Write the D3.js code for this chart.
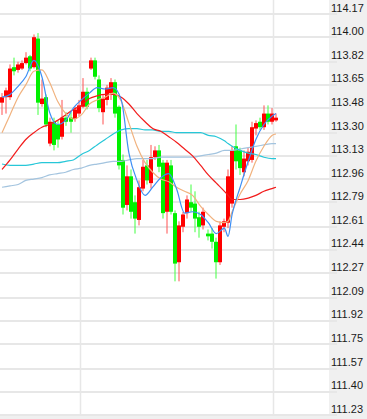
<!DOCTYPE html>
<html>
<head>
<meta charset="utf-8">
<script src="https://cdn.jsdelivr.net/npm/d3@7"></script>
<style>
  body { margin: 0; background: #fff; }
  svg { display: block; }
</style>
</head>
<body>
<svg id="chart" width="367" height="419"></svg>
<script>
/////////////////////////////////////////////////////////////
////////////////////// Data /////////////////////////////////
/////////////////////////////////////////////////////////////
// price labels on the right axis
var tickValues = [114.17, 114.00, 113.82, 113.65, 113.48, 113.30, 113.13, 112.96, 112.79,
                  112.61, 112.44, 112.27, 112.09, 111.92, 111.75, 111.57, 111.40, 111.23];

// candles, oldest first
var opens = [113.52,113.56,113.56,113.78,113.76,113.77,113.81,113.86,113.78,113.99,
             113.51,113.56,113.22,113.38,113.36,113.27,113.41,113.41,113.40,113.44,
             113.49,113.60,113.77,113.83,113.69,113.45,113.54,113.59,113.67,113.49,
             113.10,112.77,112.98,112.79,112.66,112.89,113.06,112.93,113.12,113.17,
             113.08,112.72,113.06,112.71,112.35,112.61,112.71,112.79,112.78,112.68,
             112.62,112.56,112.56,112.50,112.35,112.61,112.64,112.78,113.20,113.17,
             113.01,113.09,113.10,113.33,113.38,113.34,113.44,113.38,113.39];
var highs = [113.59,113.63,113.80,113.85,113.82,113.83,113.89,113.87,114.02,114.03,
             113.69,113.58,113.41,113.41,113.39,113.54,113.45,113.45,113.49,113.54,
             113.70,113.63,113.85,113.85,113.72,113.58,113.65,113.70,113.69,113.50,
             113.14,113.06,113.03,112.84,112.95,113.10,113.10,113.21,113.20,113.21,
             113.10,113.10,113.10,112.73,112.65,112.72,112.84,112.92,112.87,112.72,
             112.75,112.59,112.60,112.53,112.65,112.67,113.03,113.20,113.36,113.19,
             113.17,113.19,113.38,113.39,113.41,113.50,113.50,113.48,113.44];
var lows = [113.43,113.44,113.54,113.72,113.74,113.76,113.80,113.75,113.77,113.43,
            113.49,113.34,113.20,113.17,113.19,113.25,113.35,113.30,113.38,113.42,
            113.48,113.47,113.76,113.69,113.45,113.36,113.50,113.54,113.41,113.03,
            112.70,112.73,112.67,112.56,112.62,112.87,112.92,112.89,113.10,113.01,
            112.67,112.56,112.70,112.21,112.21,112.57,112.67,112.72,112.57,112.53,
            112.59,112.51,112.45,112.23,112.33,112.57,112.60,112.75,113.03,112.99,
            112.98,113.06,113.08,113.28,113.32,113.32,113.36,113.36,113.38];
var closes = [113.56,113.61,113.77,113.75,113.80,113.81,113.85,113.77,114.00,113.52,
              113.55,113.36,113.38,113.21,113.25,113.41,113.38,113.38,113.47,113.50,
              113.60,113.49,113.83,113.71,113.48,113.55,113.63,113.67,113.44,113.06,
              112.75,112.98,112.72,112.67,112.90,113.05,112.95,113.12,113.17,113.05,
              112.71,113.08,112.72,112.34,112.62,112.70,112.81,112.75,112.67,112.61,
              112.72,112.54,112.50,112.35,112.62,112.65,112.98,113.17,113.09,113.04,
              113.11,113.16,113.34,113.37,113.34,113.44,113.38,113.44,113.41];

// session separators (candle position)
var sessionBreaks = [19.5, 67.5];

// moving averages, read at these candle positions
var maIdx = [0,2,4,5.9,7.9,9.9,11.8,13.8,15.8,17.7,19.7,21.7,23.6,25.6,27.6,29.6,31.5,33.5,
             35.5,37.4,39.4,41.4,43.3,45.3,47.3,49.3,51.2,53.2,55.2,56.1,57.1,59.1,61.1,63,65,67,68];
var ma5 = [113.56,113.58,113.64,113.71,113.83,113.71,113.45,113.36,113.39,113.48,113.54,113.59,
           113.63,113.62,113.63,113.54,113.15,112.95,112.84,112.90,112.97,113.00,112.89,112.71,
           112.72,112.70,112.64,112.56,112.60,112.54,112.70,112.90,113.09,113.25,113.36,113.42,113.44];
var ma10 = [113.30,113.43,113.56,113.65,113.75,113.76,113.67,113.53,113.44,113.40,113.43,113.51,
            113.54,113.56,113.59,113.53,113.37,113.20,113.08,113.01,112.96,112.94,112.90,112.87,
            112.84,112.76,112.70,112.65,112.64,112.65,112.72,112.85,112.95,113.09,113.20,113.28,113.29];
var ma20 = [113.03,113.10,113.18,113.25,113.30,113.34,113.36,113.39,113.43,113.47,113.50,113.55,
            113.57,113.58,113.58,113.56,113.51,113.44,113.38,113.33,113.31,113.27,113.23,113.18,
            113.13,113.06,112.99,112.93,112.87,112.84,112.81,112.81,112.82,112.84,112.87,112.89,112.90];
var ma30 = [113.07,113.06,113.06,113.06,113.07,113.08,113.08,113.08,113.09,113.10,113.14,113.17,
            113.21,113.25,113.29,113.32,113.33,113.33,113.32,113.32,113.31,113.31,113.30,113.30,
            113.30,113.30,113.28,113.27,113.24,113.22,113.20,113.17,113.15,113.14,113.12,113.11,113.11];
var ma60 = [112.90,112.91,112.92,112.95,112.96,112.97,112.99,113.00,113.01,113.03,113.04,113.06,
            113.07,113.08,113.09,113.09,113.10,113.11,113.11,113.11,113.12,113.12,113.12,113.12,
            113.12,113.13,113.14,113.15,113.17,113.17,113.17,113.18,113.19,113.20,113.21,113.22,113.22];

/////////////////////////////////////////////////////////////
////////////////////// Chart ////////////////////////////////
/////////////////////////////////////////////////////////////
var svg = d3.select("#chart");
var plotRight = 329, plotBottom = 415;

var y = d3.scaleLinear().domain([111.23, 114.17]).range([415, 14]);
var x = d3.scaleLinear().domain([0, opens.length - 1]).range([1, 275]);

//axis panel + bottom strip
svg.append("rect")
    .attr("x", plotRight).attr("y", 0)
    .attr("width", 367 - plotRight).attr("height", 419)
    .attr("fill", "#f0f0f0");
svg.append("rect")
    .attr("x", 0).attr("y", plotBottom)
    .attr("width", 367).attr("height", 419 - plotBottom)
    .attr("fill", "#f0f0f0");

//grid
var grid = svg.append("g").attr("class", "grid");
grid.selectAll("line.h")
    .data(tickValues)
    .join("line")
    .attr("class", "h")
    .attr("x1", 0).attr("x2", 337)
    .attr("y1", function(d){ return Math.round(y(d)); })
    .attr("y2", function(d){ return Math.round(y(d)); })
    .attr("stroke", "#e7e7e7")
    .attr("stroke-width", 2);
grid.selectAll("line.v")
    .data(sessionBreaks)
    .join("line")
    .attr("class", "v")
    .attr("x1", function(d){ return Math.round(x(d)) + 0.5; })
    .attr("x2", function(d){ return Math.round(x(d)) + 0.5; })
    .attr("y1", 0).attr("y2", plotBottom)
    .attr("stroke", "#e7e7e7")
    .attr("stroke-width", 1.5);

//candles
var candles = opens.map(function(o, i){
    return {i: i, o: o, h: highs[i], l: lows[i], c: closes[i]};
});
var bodyW = 4;
var cg = svg.append("g").attr("class", "candles");
var candle = cg.selectAll("g")
    .data(candles)
    .join("g");

//wick sits in the body centre, half-pixel so it reads lighter like the original
candle.append("line")
    .attr("x1", function(d){ return Math.round(x(d.i)) + 1; })
    .attr("x2", function(d){ return Math.round(x(d.i)) + 1; })
    .attr("y1", function(d){ return y(d.h); })
    .attr("y2", function(d){ return y(d.l); })
    .attr("stroke", function(d){ return d.c >= d.o ? "#ff5050" : "#40ff40"; })
    .attr("stroke-width", 1);

candle.append("rect")
    .attr("x", function(d){ return Math.round(x(d.i)) - 1; })
    .attr("width", bodyW)
    .attr("y", function(d){ return y(Math.max(d.o, d.c)); })
    .attr("height", function(d){ return Math.max(1, Math.abs(y(d.o) - y(d.c))); })
    .attr("fill", function(d){ return d.c >= d.o ? "#ff0000" : "#00f000"; });

//moving averages
var line = d3.line()
    .x(function(d){ return x(d[0]) + 1; })
    .y(function(d){ return y(d[1]); })
    .curve(d3.curveMonotoneX);

var maSeries = [
    {values: ma60, color: "#a3c4df"},
    {values: ma30, color: "#27c7d8"},
    {values: ma20, color: "#f21c1c"},
    {values: ma10, color: "#f1b27e"},
    {values: ma5,  color: "#3d8ff5"}
];
svg.append("g").attr("class", "ma")
    .selectAll("path")
    .data(maSeries)
    .join("path")
    .attr("d", function(s){ return line(maIdx.map(function(p, k){ return [p, s.values[k]]; })); })
    .attr("fill", "none")
    .attr("stroke", function(s){ return s.color; })
    .attr("stroke-width", 1.2);

//right axis labels
var yAxis = d3.axisRight(y)
    .tickValues(tickValues)
    .tickFormat(d3.format(".2f"))
    .tickSize(0)
    .tickPadding(2);
var axisG = svg.append("g")
    .attr("transform", "translate(" + plotRight + ",0)")
    .call(yAxis)
    .attr("font-family", "'Liberation Sans', Arial, sans-serif")
    .attr("font-size", 11);
axisG.select(".domain").remove();
axisG.selectAll("text")
    .attr("dy", -3)
    .attr("fill", "#1a1a1a");
</script>
</body>
</html>
